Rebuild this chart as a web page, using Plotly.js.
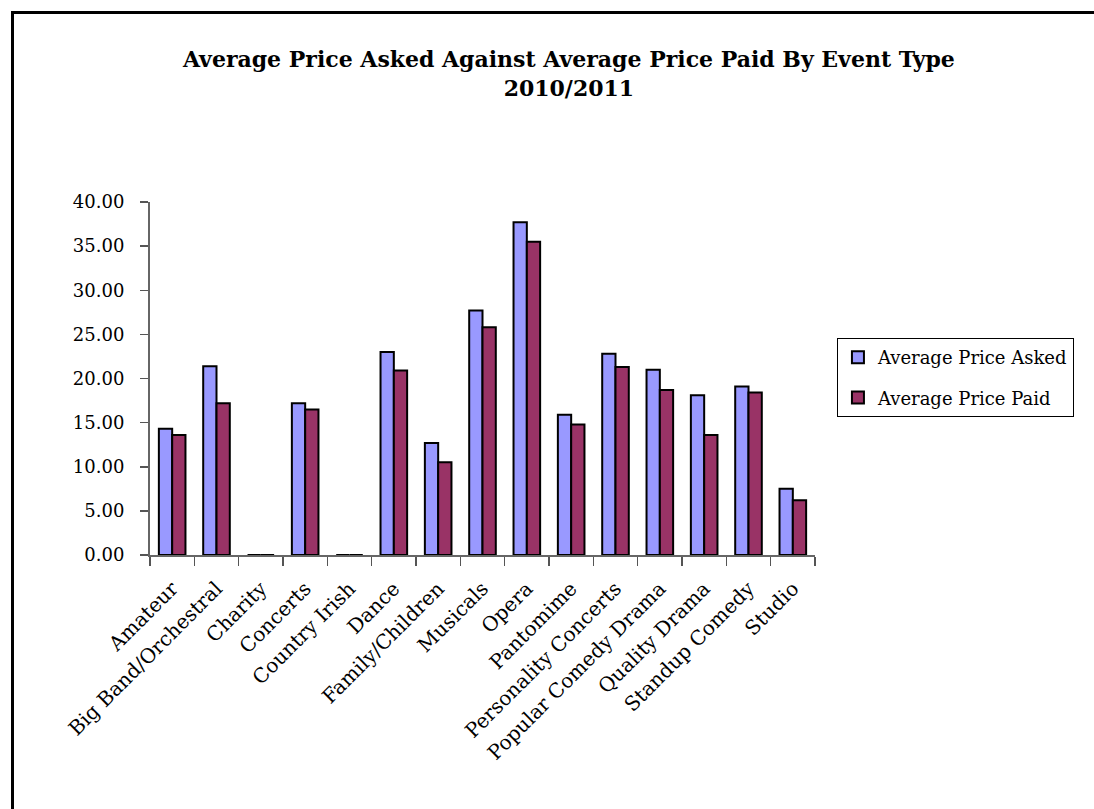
<!DOCTYPE html>
<html>
<head>
<meta charset="utf-8">
<script src="https://cdn.plot.ly/plotly-3.0.1.min.js"></script>
<style>
  html,body{margin:0;padding:0;background:#fff;}
  #frame{position:absolute;left:11px;top:11px;width:1100px;height:820px;border-left:3px solid #000;border-top:3px solid #000;pointer-events:none;}
  #chart{width:1094px;height:809px;}
</style>
</head>
<body>
<div id="chart"></div>
<div id="frame"></div>
<script>
// event types and average prices (2010/2011)
const eventTypes = ['Amateur','Big Band/Orchestral','Charity','Concerts','Country Irish','Dance',
  'Family/Children','Musicals','Opera','Pantomime','Personality Concerts','Popular Comedy Drama',
  'Quality Drama','Standup Comedy','Studio'];
const priceAsked = [14.3, 21.4, 0, 17.2, 0, 23.0, 12.7, 27.7, 37.7, 15.9, 22.8, 21.0, 18.1, 19.1, 7.5];
const pricePaid  = [13.6, 17.2, 0, 16.5, 0, 20.9, 10.5, 25.8, 35.5, 14.8, 21.3, 18.7, 13.6, 18.4, 6.2];

const serif = 'DejaVu Serif, Liberation Serif, serif';

const traces = [
  {type:'bar', name:'Average Price Asked', legendgroup:'a', x:eventTypes, y:priceAsked,
   marker:{color:'#9999FF', line:{color:'#000', width:2}}},
  {type:'bar', name:'Average Price Paid', legendgroup:'b', x:eventTypes, y:pricePaid,
   marker:{color:'#993366', line:{color:'#000', width:2}}}
];

const layout = {
  width:1094, height:809,
  paper_bgcolor:'rgba(0,0,0,0)', plot_bgcolor:'#fff',
  font:{family:serif, color:'#000', size:17},
  margin:{l:150, r:279, t:202, b:254},
  bargap:0.4, bargroupgap:0,
  showlegend:true,
  title:{text:'<b>Average Price Asked Against Average Price Paid By Event Type<br>2010/2011</b>',
    x:0.52, xanchor:'center', y:0.917, yanchor:'top', font:{family:serif, size:22}},
  xaxis:{type:'category', tickangle:-45, tickson:'boundaries', ticks:'outside', ticklen:9,
    tickcolor:'#555', tickwidth:1.5, showline:true, linecolor:'#666', linewidth:2,
    showgrid:false, tickfont:{size:20}, ticklabelstandoff:12},
  yaxis:{range:[0,40], dtick:5, tickformat:'.2f', ticks:'outside', ticklen:8,
    tickcolor:'#555', tickwidth:1.5, showline:true, linecolor:'#666', linewidth:2,
    showgrid:false, zeroline:false, tickfont:{size:18}, ticklabelstandoff:12},
  legend:{x:1.033, xanchor:'left', y:0.503, yanchor:'middle', bordercolor:'#000', borderwidth:1,
    bgcolor:'#fff', font:{size:18}, itemwidth:20, traceorder:'grouped', tracegroupgap:14}
};

Plotly.newPlot('chart', traces, layout, {displayModeBar:false, staticPlot:true});
</script>
</body>
</html>
